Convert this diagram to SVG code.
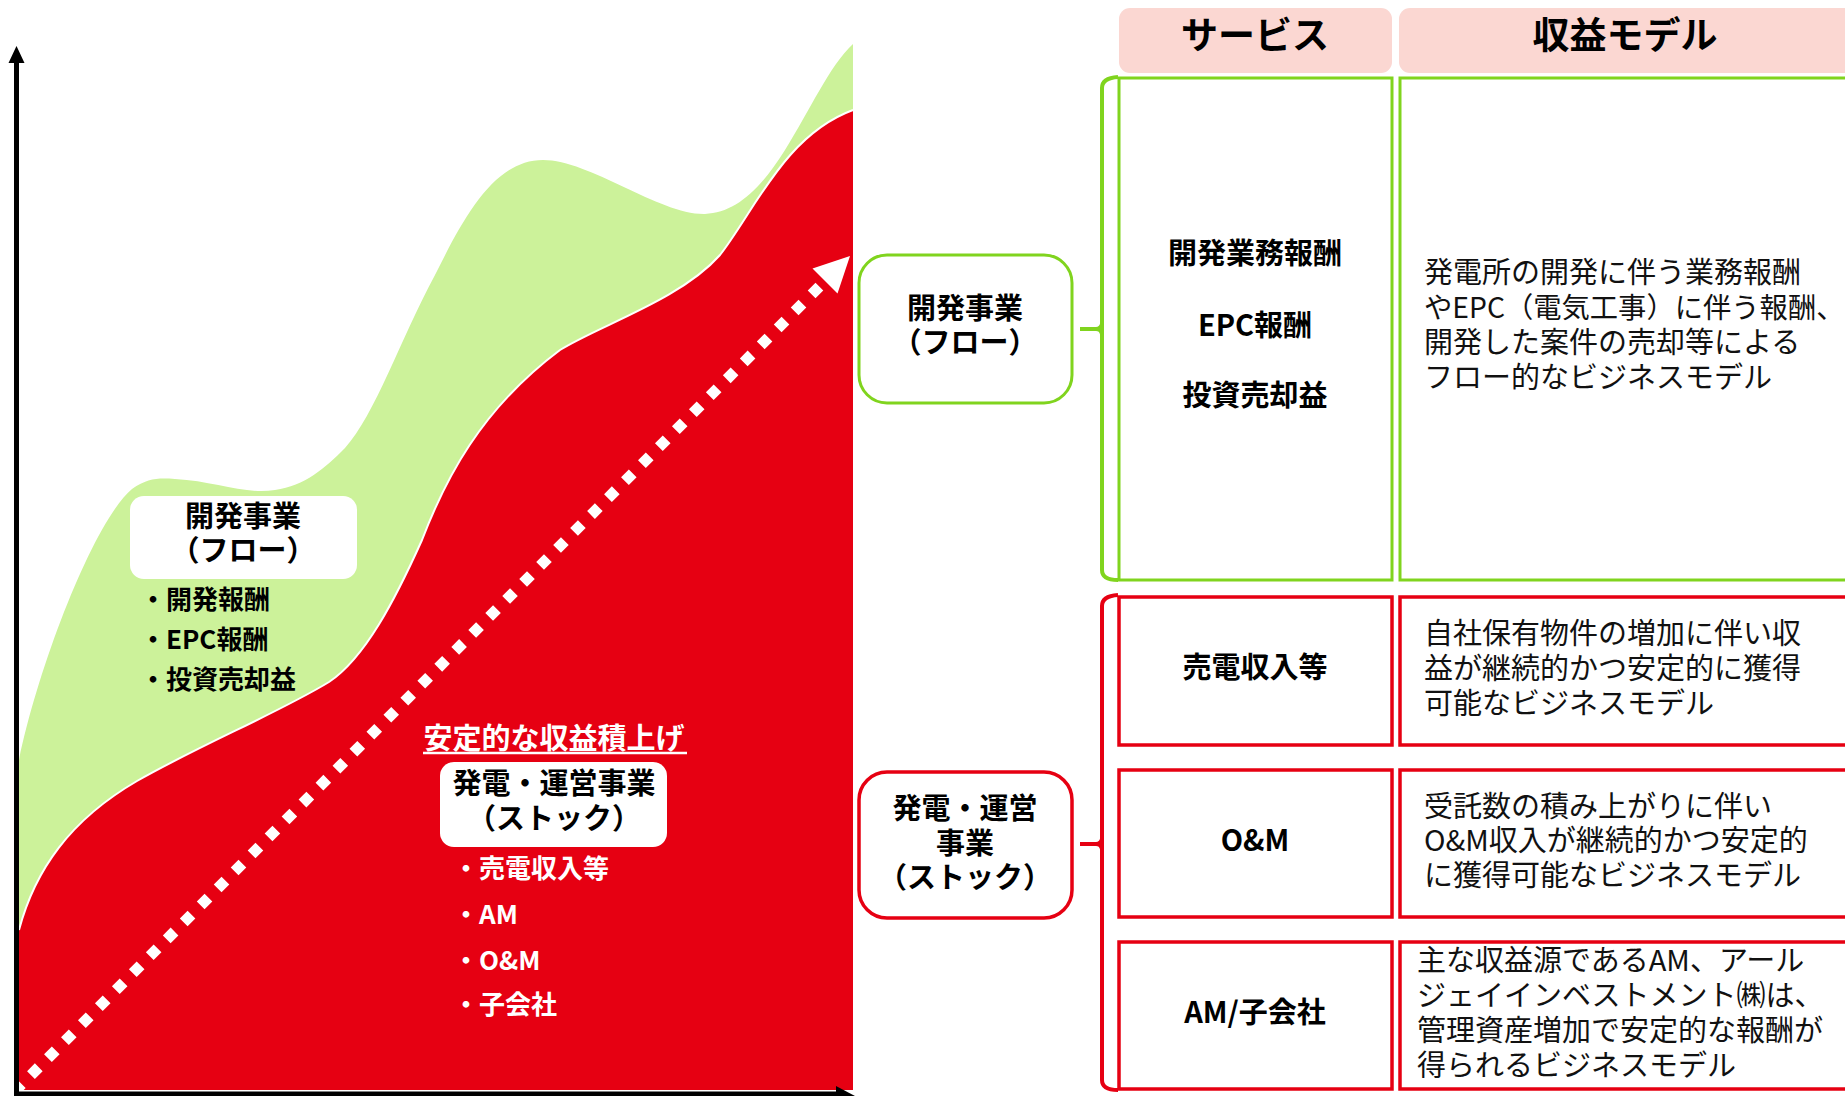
<svg xmlns="http://www.w3.org/2000/svg" width="1845" height="1096" viewBox="0 0 1845 1096">
<style>
text{font-family:"Noto Sans CJK JP","Noto Sans",sans-serif;}
.b{font-weight:700;}
.c{text-anchor:middle;}
.t29{font-size:29px;}
.t26{font-size:26px;}
.t36{font-size:37px;}
.m{font-size:29px;font-weight:400;fill:#111;}
.w{fill:#fff;}
.hdr{fill:#FBD7D2;}
.gbox{fill:#fff;stroke:#80D41E;stroke-width:3;}
.rbox{fill:#fff;stroke:#E60012;stroke-width:3.5;}
.gbr{fill:none;stroke:#80D41E;stroke-width:4;}
.rbr{fill:none;stroke:#E60012;stroke-width:4;}
</style>
<rect width="1845" height="1096" fill="#fff"/>

<g id="chart">
  <path id="flow-area" fill="#CCF29A" d="M19,1090 L19,760 C40,660 95,520 132,489 C148,478 158,478 175,479 C215,481 245,495 275,490 C305,486 325,468 345,448 C375,415 400,340 435,275 C465,215 495,160 543,160 C590,160 660,215 705,214 C735,213 760,190 785,150 C810,110 830,65 853,44 L853,1090 Z"/>
  <path id="stock-area" fill="#E60012" d="M19,1090 L19,930 C35,870 70,820 137,781 C200,745 280,712 329,682 C365,658 395,600 422,540 C445,480 480,410 560,350 C600,325 680,300 720,255 C755,210 785,135 853,110 L853,1090 Z"/>
  <path fill="none" stroke="#fff" stroke-width="2" d="M19,930 C35,870 70,820 137,781 C200,745 280,712 329,682 C365,658 395,600 422,540 C445,480 480,410 560,350 C600,325 680,300 720,255 C755,210 785,135 853,110"/>
  <line x1="14" y1="1092" x2="822" y2="284" stroke="#fff" stroke-width="11" stroke-dasharray="11 13"/>
  <polygon points="850,256 812.5,268.5 837.5,293.5" fill="#fff"/>
  <line x1="16.5" y1="60" x2="16.5" y2="1094" stroke="#000" stroke-width="5"/>
  <polygon points="16.5,46 8.5,63 24.5,63" fill="#000"/>
  <line x1="14" y1="1094" x2="840" y2="1094" stroke="#000" stroke-width="5"/>
  <polygon points="855,1096 836,1086 836,1102" fill="#000"/>
</g>

<g id="chart-flow-label">
  <rect x="130" y="496" width="227" height="83" rx="14" fill="#fff"/>
  <text class="b c t29" x="243" y="527">開発事業</text>
  <text class="b c t29" x="243" y="561">（フロー）</text>
  <text class="b t26" x="140" y="609">・開発報酬</text>
  <text class="b t26" x="140" y="649">・EPC報酬</text>
  <text class="b t26" x="140" y="689">・投資売却益</text>
</g>

<g id="chart-stock-label">
  <text class="b c t29 w" x="554" y="749">安定的な収益積上げ</text>
  <line x1="423" y1="753" x2="687" y2="753" stroke="#fff" stroke-width="2.5"/>
  <rect x="440" y="762" width="227" height="85" rx="14" fill="#fff"/>
  <text class="b c t29" x="554" y="794">発電・運営事業</text>
  <text class="b c t29" x="554" y="829">（ストック）</text>
  <text class="b t26 w" x="453" y="878">・売電収入等</text>
  <text class="b t26 w" x="453" y="924">・AM</text>
  <text class="b t26 w" x="453" y="970">・O&amp;M</text>
  <text class="b t26 w" x="453" y="1014">・子会社</text>
</g>

<g id="header-service">
  <rect class="hdr" x="1119" y="8" width="273" height="65" rx="11"/>
  <text class="b c t36" x="1255" y="49">サービス</text>
</g>
<g id="header-model">
  <rect class="hdr" x="1399" y="8" width="470" height="65" rx="11"/>
  <text class="b c t36" x="1625" y="49">収益モデル</text>
</g>

<g id="connectors">
  <path class="gbr" d="M1118,77 Q1102,78 1102,88 L1102,570 Q1102,580 1118,580"/>
  <path class="gbr" d="M1080,329 L1096,329 Q1101,329 1102,324 M1096,329 Q1101,329 1102,334"/>
  <path class="rbr" d="M1118,595 Q1102,596 1102,606 L1102,1080 Q1102,1090 1118,1090"/>
  <path class="rbr" d="M1080,844 L1096,844 Q1101,844 1102,839 M1096,844 Q1101,844 1102,849"/>
</g>

<g id="flow-business">
  <rect class="gbox" x="859" y="255" width="213" height="148" rx="28"/>
  <text class="b c t29" x="965" y="319">開発事業</text>
  <text class="b c t29" x="965" y="353">（フロー）</text>
</g>
<g id="flow-service">
  <rect class="gbox" x="1119" y="78" width="273" height="502"/>
  <text class="b c t29" x="1255" y="264">開発業務報酬</text>
  <text class="b c t29" x="1255" y="336">EPC報酬</text>
  <text class="b c t29" x="1255" y="406">投資売却益</text>
</g>
<g id="flow-model">
  <rect class="gbox" x="1400" y="78" width="470" height="502"/>
  <text class="m" x="1424" y="283">発電所の開発に伴う業務報酬</text>
  <text class="m" x="1424" y="318" style="font-size:28.3px">やEPC（電気工事）に伴う報酬、</text>
  <text class="m" x="1424" y="353">開発した案件の売却等による</text>
  <text class="m" x="1424" y="388">フロー的なビジネスモデル</text>
</g>

<g id="stock-business">
  <rect class="rbox" x="859" y="772" width="213" height="146" rx="28"/>
  <text class="b c t29" x="965" y="819">発電・運営</text>
  <text class="b c t29" x="965" y="854">事業</text>
  <text class="b c t29" x="965" y="888">（ストック）</text>
</g>
<g id="stock-service-1">
  <rect class="rbox" x="1119" y="597" width="273" height="148"/>
  <text class="b c t29" x="1255" y="678">売電収入等</text>
</g>
<g id="stock-model-1">
  <rect class="rbox" x="1400" y="597" width="470" height="148"/>
  <text class="m" x="1424" y="644">自社保有物件の増加に伴い収</text>
  <text class="m" x="1424" y="679">益が継続的かつ安定的に獲得</text>
  <text class="m" x="1424" y="714">可能なビジネスモデル</text>
</g>
<g id="stock-service-2">
  <rect class="rbox" x="1119" y="770" width="273" height="147"/>
  <text class="b c t29" x="1255" y="851">O&amp;M</text>
</g>
<g id="stock-model-2">
  <rect class="rbox" x="1400" y="770" width="470" height="147"/>
  <text class="m" x="1424" y="817">受託数の積み上がりに伴い</text>
  <text class="m" x="1424" y="851">O&amp;M収入が継続的かつ安定的</text>
  <text class="m" x="1424" y="886">に獲得可能なビジネスモデル</text>
</g>
<g id="stock-service-3">
  <rect class="rbox" x="1119" y="942" width="273" height="147"/>
  <text class="b c t29" x="1255" y="1023">AM/子会社</text>
</g>
<g id="stock-model-3">
  <rect class="rbox" x="1400" y="942" width="470" height="147"/>
  <text class="m" x="1417" y="971">主な収益源であるAM、アール</text>
  <text class="m" x="1417" y="1006">ジェイインベストメント㈱は、</text>
  <text class="m" x="1417" y="1041">管理資産増加で安定的な報酬が</text>
  <text class="m" x="1417" y="1076">得られるビジネスモデル</text>
</g>
</svg>
